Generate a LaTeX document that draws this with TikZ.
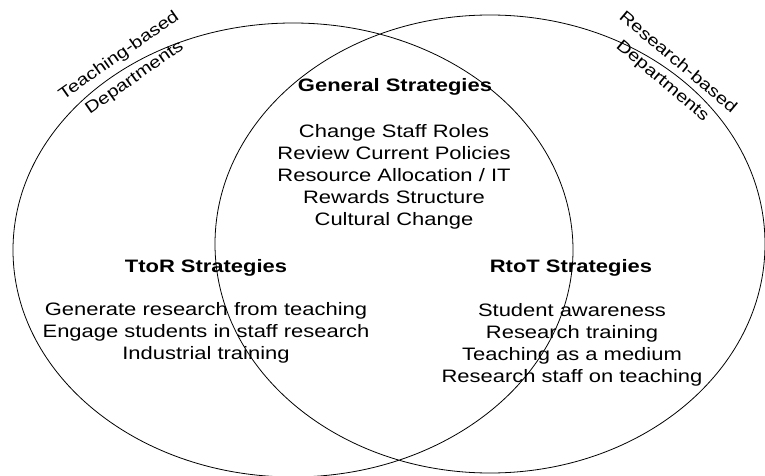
\documentclass[tikz,border=0pt]{standalone}
\usepackage{fontspec}
\setmainfont{Liberation Sans}[FakeStretch=1.22]
\tikzset{
  setline/.style={line width=0.8pt},
  item/.style={align=center, inner sep=0pt, font=\fontsize{18}{22}\selectfont},
  head/.style={item, font=\fontsize{18}{22}\selectfont\bfseries},
  deptlbl/.style={align=center, inner sep=0pt, font=\fontsize{16.5}{24}\selectfont}
}
\begin{document}
\begin{tikzpicture}[x=1pt, y=-1pt]
\useasboundingbox (0,0) rectangle (765,476);
\draw[setline] 
    (293,250) ellipse [x radius=280pt, y radius=227pt]  % teaching
    (490,244) ellipse [x radius=275pt, y radius=229pt];  % research
\node (teachlbl) at (127,67) [deptlbl, rotate=35, font=\fontsize{16.5}{27}\selectfont] {Teaching-based\\Departments};
\node (reslbl) at (670,72) [deptlbl, rotate=-40] {Research-based\\Departments};
\node (general) at (395,87) [head] {General Strategies};
\node (genlist) at (394,177) [item] {Change Staff Roles\\Review Current Policies\\Resource Allocation / IT\\Rewards Structure\\Cultural Change};
\node (ttor) at (206,268) [head] {TtoR Strategies};
\node (ttorlist) at (206,333) [item] {Generate research from teaching\\Engage students in staff research\\Industrial training};
\node (rtot) at (571,268) [head] {RtoT Strategies};
\node (rtotlist) at (572,345) [item] {Student awareness\\Research training\\Teaching as a medium\\Research staff on teaching};

\end{tikzpicture}
\end{document}
